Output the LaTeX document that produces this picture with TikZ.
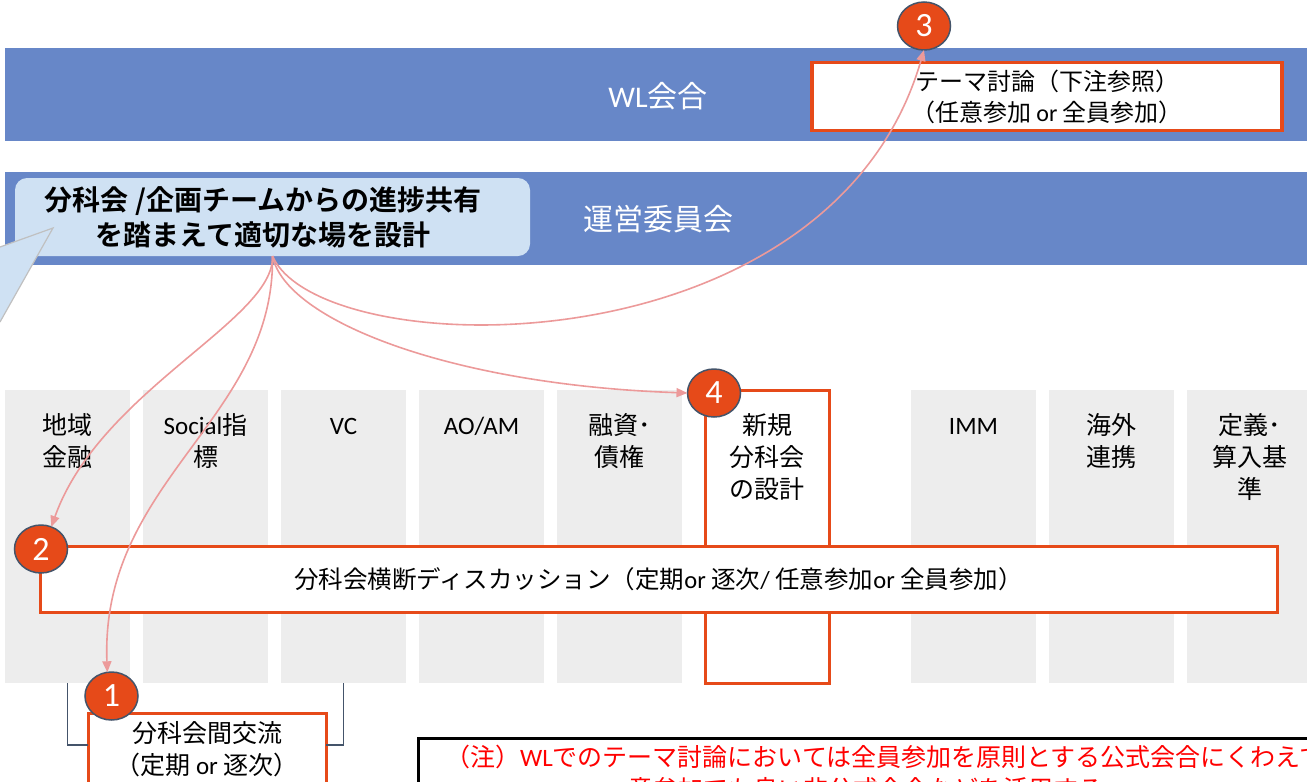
\documentclass[tikz,border=0pt]{standalone}
\usepackage{fontspec}
\setmainfont{Noto Sans CJK JP}[BoldFont={* Bold}]
\newfontfamily\latf{Carlito}
\newcommand\ltn[1]{{\latf #1}}
\newcommand\tpr{\rule{0pt}{21pt}}
\usetikzlibrary{arrows.meta,shapes.geometric}
\definecolor{band}{HTML}{6787C8}
\definecolor{orng}{HTML}{E64A19}
\definecolor{slate}{HTML}{44546A}
\definecolor{callfill}{HTML}{CFE1F3}
\definecolor{colgray}{HTML}{EDEDED}
\definecolor{pinkc}{HTML}{EC9A9A}
\definecolor{tailgray}{HTML}{C0C0C0}
\begin{document}
\begin{tikzpicture}[x=1pt,y=-1pt,
  shp/.style={inner sep=0pt, outer sep=0pt},
  bandbox/.style={shp, fill=band, minimum width=1302pt, minimum height=93pt},
  colbox/.style={shp, fill=colgray, minimum width=125pt, minimum height=293pt},
  obox/.style={shp, draw=orng, line width=3pt, fill=white},
  num/.style={ellipse, shp, fill=orng, draw=slate, line width=1.5pt, minimum width=53pt, minimum height=48pt, text=white, font=\latf\fontsize{34}{34}\selectfont},
  coltext/.style={anchor=north, align=center, inner sep=0pt, font=\fontsize{25}{32}\selectfont},
  bandtext/.style={text=white, font=\fontsize{30}{30}\selectfont},
  arr/.style={draw=pinkc, line width=1.6pt, -{Triangle[length=11pt,width=9pt]}},
  brk/.style={draw=slate, line width=1.5pt}
]
\useasboundingbox (0,0) rectangle (1307,782);
\clip (0,0) rectangle (1307,782);

% bands
\node[bandbox] (wl) at (656,94.5) {};
\node[bandtext] (wlt) at (658,96) {\ltn{WL}会合};
\node[bandbox] (un) at (656,218.5) {};
\node[bandtext] (unt) at (658,219) {運営委員会};

% theme box
\node[obox, line width=3.5pt, minimum width=470pt, minimum height=68pt, align=center, font=\fontsize{24}{31}\selectfont] (th) at (1047,96.5) {テーマ討論（下注参照）\\（任意参加\ltn{ or }全員参加）};

% callout
\node[shp, fill=callfill, rounded corners=12pt, minimum width=515pt, minimum height=78pt] (co) at (272.5,217) {};
\coordinate (tip) at (53,228);
\coordinate (ta) at (0,247);
\coordinate (tb) at (0,322);
\fill[callfill] (ta) -- (tip) -- (tb) -- cycle;
\draw[tailgray, line width=1.2pt] (ta) -- (tip) -- (tb);
\node[align=center, font=\bfseries\fontsize{28}{35}\selectfont] (cot) at (263,217) {分科会 /企画チームからの進捗共有\\を踏まえて適切な場を設計};

% columns
\node[colbox] (k1) at (67.5,536.5) {};
\node[colbox] (k2) at (205.5,536.5) {};
\node[colbox] (k3) at (343.5,536.5) {};
\node[colbox] (k4) at (481.5,536.5) {};
\node[colbox] (k5) at (619.5,536.5) {};
\node[obox, minimum width=124pt, minimum height=293pt] (k6) at (767,536.5) {};
\node[colbox] (k7) at (973.5,536.5) {};
\node[colbox] (k8) at (1111.5,536.5) {};
\node[colbox] (k9) at (1249.5,536.5) {};

\node[coltext] (t1) at ([yshift=-23pt]k1.north) {\tpr 地域\\金融};
\node[coltext] (t2) at ([yshift=-23pt]k2.north) {\tpr\ltn{Social}指\\標};
\node[coltext] (t3) at ([yshift=-23pt]k3.north) {\tpr\ltn{VC}};
\node[coltext] (t4) at ([yshift=-23pt]k4.north) {\tpr\ltn{AO/AM}};
\node[coltext] (t5) at ([yshift=-23pt]k5.north) {\tpr 融資･\\債権};
\node[coltext] (t6) at ([yshift=-23pt]k6.north) {\tpr 新規\\分科会\\の設計};
\node[coltext] (t7) at ([yshift=-23pt]k7.north) {\tpr\ltn{IMM}};
\node[coltext] (t8) at ([yshift=-23pt]k8.north) {\tpr 海外\\連携};
\node[coltext] (t9) at ([yshift=-23pt]k9.north) {\tpr 定義･\\算入基\\準};

% discussion
\node[obox, minimum width=1237pt, minimum height=66pt, font=\fontsize{24.5}{30}\selectfont] (dis) at (658.5,579) {分科会横断ディスカッション（定期\ltn{or }逐次\ltn{/ }任意参加\ltn{or }全員参加）};

% bottom exchange box
\node[obox, minimum width=238pt, minimum height=77pt] (bx) at (207,751.5) {};
\node[coltext] (bxt) at ([yshift=-8pt]bx.north) {\tpr 分科会間交流\\（定期\ltn{ or }逐次）};
\draw[brk] (k1.south) |- ([yshift=6.5pt]bx.west);
\draw[brk] (k3.south) |- ([yshift=6.5pt]bx.east);

% note
\node[shp, draw=black, line width=3pt, minimum width=920pt, minimum height=70pt] (note) at (878,773) {};
\node[anchor=base west, inner sep=0pt, text=red, font=\fontsize{25}{25}\selectfont] (n1) at (445,766) {（注）\ltn{WL}でのテーマ討論においては全員参加を原則とする公式会合にくわえて任};
\node[anchor=base west, inner sep=0pt, text=red, font=\fontsize{25}{25}\selectfont] (n2) at (628,798) {意参加でも良い非公式会合などを活用する};

% numbered circles
\node[num] (c3) at (924,26) {3};
\node[num] (c4) at (714,393) {4};
\node[num] (c2) at (41,549) {2};
\node[num] (c1) at (111.5,696) {1};

% arrows
\draw[arr] (co.south) .. controls (320,365) and (830,375) .. (c3.south);
\draw[arr] (co.south) .. controls (285,320) and (450,385) .. (c4.west);
\draw[arr] (co.south) .. controls (275,320) and (100,390) .. (c2.65);
\draw[arr] (co.south) .. controls (275,420) and (100,480) .. (c1.100);
\end{tikzpicture}
\end{document}
